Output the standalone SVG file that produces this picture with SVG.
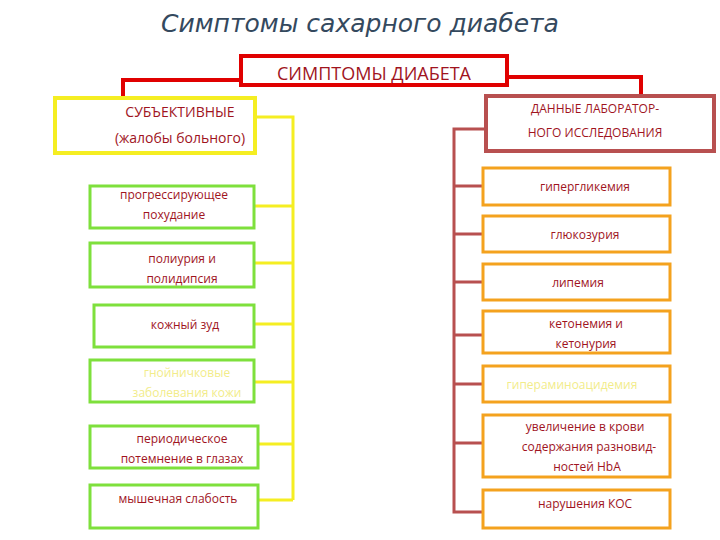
<svg xmlns="http://www.w3.org/2000/svg" width="720" height="540" viewBox="0 0 720 540">
<style>
text{font-family:"Open Sans","DejaVu Sans",sans-serif;fill:#a0141e;text-anchor:middle;font-size:12px}
.g{fill:#fff;stroke:#7ee03c;stroke-width:3}
.o{fill:#fff;stroke:#f4a21e;stroke-width:3}
.f{fill:#f2ec8a}
</style>
<rect width="720" height="540" fill="#fff"/>
<text x="360" y="32" style="font-family:'DejaVu Sans',sans-serif;font-style:italic;font-size:25px;fill:#34495e">Симптомы сахарного диабета</text>
<g id="connectors" fill="none">
<path d="M241 80H123V97M507 77H641V96" stroke="#e00000" stroke-width="4"/>
<path d="M255 117H293V500M254 206H293M254 263H293M254 324H293M254 382H293M258 444H293M258 500H293" stroke="#f5ee22" stroke-width="3"/>
<path d="M485 129H454V512H483M454 186H483M454 234H483M454 282H483M454 335H483M454 384H483M454 443H483" stroke="#b85050" stroke-width="3"/>
</g>
<g id="top"><rect x="241" y="56" width="266" height="29" fill="#fff" stroke="#e00000" stroke-width="4"/><text x="374" y="80" style="font-size:18px">СИМПТОМЫ ДИАБЕТА</text></g>
<g id="subj"><rect x="55" y="98" width="200" height="55" fill="#fff" stroke="#f5ee22" stroke-width="4"/><text x="180" y="117" style="font-size:14px">СУБЪЕКТИВНЫЕ</text><text x="180" y="143" style="font-size:14px">(жалобы больного)</text></g>
<g id="s1"><rect class="g" x="90" y="186" width="164" height="42"/><text x="174" y="199">прогрессирующее</text><text x="174" y="219">похудание</text></g>
<g id="s2"><rect class="g" x="90" y="243" width="164" height="44"/><text x="182" y="263">полиурия и</text><text x="182" y="283">полидипсия</text></g>
<g id="s3"><rect class="g" x="94" y="305" width="160" height="42"/><text x="185" y="329">кожный зуд</text></g>
<g id="s4"><rect class="g" x="90" y="360" width="164" height="42"/><text x="187" y="377" class="f">гнойничковые</text><text x="187" y="397" class="f">заболевания кожи</text></g>
<g id="s5"><rect class="g" x="90" y="426" width="168" height="42"/><text x="182" y="443">периодическое</text><text x="182" y="463">потемнение в глазах</text></g>
<g id="s6"><rect class="g" x="90" y="485" width="168" height="43"/><text x="178" y="503">мышечная слабость</text></g>
<g id="lab"><rect x="486" y="96" width="228" height="55" fill="#fff" stroke="#b85050" stroke-width="4"/><text x="595" y="113">ДАННЫЕ ЛАБОРАТОР-</text><text x="595" y="137">НОГО ИССЛЕДОВАНИЯ</text></g>
<g id="r1"><rect class="o" x="483" y="168" width="187" height="37"/><text x="585" y="191">гипергликемия</text></g>
<g id="r2"><rect class="o" x="483" y="216" width="187" height="36"/><text x="585" y="239">глюкозурия</text></g>
<g id="r3"><rect class="o" x="483" y="264" width="187" height="36"/><text x="578" y="287">липемия</text></g>
<g id="r4"><rect class="o" x="483" y="311" width="187" height="42"/><text x="586" y="328">кетонемия и</text><text x="586" y="348">кетонурия</text></g>
<g id="r5"><rect class="o" x="483" y="366" width="187" height="36"/><text x="572" y="389" class="f">гипераминоацидемия</text></g>
<g id="r6"><rect class="o" x="483" y="415" width="187" height="62"/><text x="585" y="431">увеличение в крови</text><text x="589" y="451">содержания разновид-</text><text x="587" y="471">ностей HbA</text></g>
<g id="r7"><rect class="o" x="483" y="490" width="187" height="38"/><text x="585" y="508">нарушения КОС</text></g>
</svg>
